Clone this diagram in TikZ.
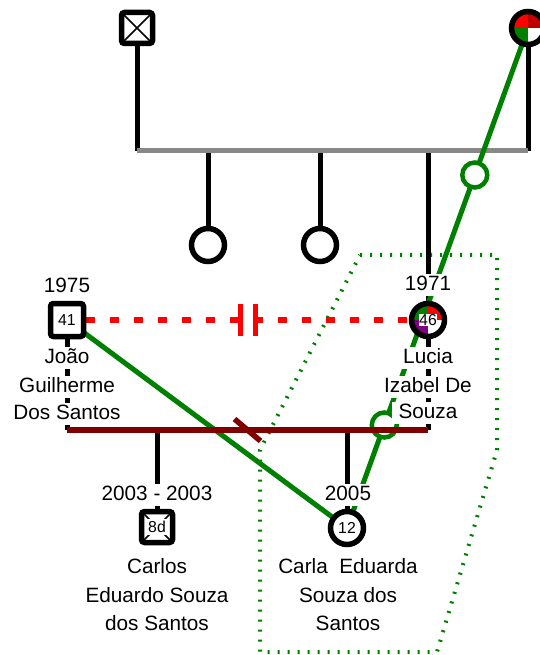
\documentclass[tikz,border=0pt]{standalone}
\usepackage{fontspec}
\setmainfont{Liberation Sans}
\usetikzlibrary{calc,backgrounds}
\definecolor{sibgray}{HTML}{888888}
\definecolor{bondgreen}{HTML}{008000}
\definecolor{coupred}{HTML}{800000}
\definecolor{sepred}{HTML}{FF0000}
\definecolor{qred}{HTML}{FF0000}
\definecolor{qdark}{HTML}{C00000}
\definecolor{qpurple}{HTML}{800080}
\newcommand{\lblsize}{\fontsize{11.8}{15.9}\selectfont}
\newcommand{\agesize}{\fontsize{9}{10}\selectfont}
\tikzset{
  male/.style={rectangle, draw=black, fill=white, line width=1.1mm, minimum size=6.2mm, inner sep=0pt, rounded corners=0.6mm, font=\agesize},
  female/.style={circle, draw=black, fill=white, line width=1.1mm, minimum size=6.6mm, inner sep=0pt, font=\agesize},
  xmark/.style={path picture={
      \draw[line width=0.3mm] (path picture bounding box.north west) -- (path picture bounding box.south east)
                              (path picture bounding box.north east) -- (path picture bounding box.south west);}},
  quads/.style n args={4}{path picture={
      \fill[#1] (path picture bounding box.center) rectangle (path picture bounding box.north west);
      \fill[#2] (path picture bounding box.center) rectangle (path picture bounding box.north east);
      \fill[#3] (path picture bounding box.center) rectangle (path picture bounding box.south west);
      \fill[#4] (path picture bounding box.center) rectangle (path picture bounding box.south east);}},
  agebox/.style={fill=white, inner sep=1.2pt, font=\agesize},
  stem/.style={draw=black, line width=1mm},
  sibline/.style={draw=sibgray, line width=1mm},
  coupline/.style={draw=coupred, line width=1.1mm},
  sepline/.style={draw=sepred, line width=1.1mm, dash pattern=on 1.8mm off 3mm},
  sepbar/.style={draw=sepred, line width=1mm},
  bond/.style={draw=bondgreen, line width=1mm},
  bondring/.style={circle, draw=bondgreen, fill=white, line width=0.9mm, minimum size=5mm, inner sep=0pt},
  famarea/.style={draw=bondgreen, line width=0.8mm, dash pattern=on 0.4mm off 1.6mm},
  lab/.style={fill=white, inner xsep=2pt, inner ysep=0.5pt, text height=8.6pt, text depth=2.4pt, font=\lblsize},
}

\begin{document}
\begin{tikzpicture}[x=0.2mm, y=-0.2mm]
  \useasboundingbox (0,0) rectangle (539,655);

  % people
  \node[male,xmark] (gf) at (137,28) {};
  \node[female,quads={qred}{qdark}{bondgreen}{white}] (gm) at (528,28) {};
  \node[female] (sib1) at (208,245) {};
  \node[female] (sib2) at (320,245) {};
  \node[male,minimum size=6.6mm] (joao) at (67,320) {41};
  \node[female,quads={bondgreen}{qred}{qpurple}{white}] (lucia) at (428,320) {};
  \node[agebox,inner sep=0.2pt] (luciaage) at (lucia) {46};
  \node[male,xmark] (carlos) at (157,527) {};
  \node[agebox,inner sep=1.5pt] (carlosage) at (carlos) {8d};
  \node[female] (carla) at (347,528) {12};

  \coordinate (sibL) at (137,151);
  \coordinate (sibR) at (528,151);
  \coordinate (cpL) at (67,430);
  \coordinate (cpR) at (428,430);
  \coordinate (sepM) at ($(joao.east)!0.5!(lucia.west)$);
  \coordinate (cpM) at ($(cpL)!0.5!(cpR)$);

  \begin{scope}[on background layer]
    \fill[white] (0,0) rectangle (539,655);
    \draw[famarea] (360,255) -- (497,255) -- (497,450) -- (437,652) -- (260,652) -- (260,450) -- cycle;

    % parents and siblings
    \draw[stem] (gf.south) -- (sibL);
    \draw[stem] (gm.south) -- (sibR);
    \draw[stem] (sib1.north) -- (sib1 |- sibL);
    \draw[stem] (sib2.north) -- (sib2 |- sibL);
    \draw[stem] (lucia.north) -- (lucia |- sibL);
    \draw[sibline] (sibL) -- (sibR);

    % bonds
    \draw[bond] (gm.center) -- (carla.center);
    \draw[bond] (joao.center) -- (carla.center);
    \node[bondring] (ring1) at ($(gm.center)!0.294!(carla.center)$) {};
    \node[bondring] (ring2) at ($(gm.center)!0.794!(carla.center)$) {};

    % separated
    \draw[sepline] (joao.east) -- (lucia.west);
    \draw[sepbar] ($(sepM)+(-7.5,-16)$) -- ($(sepM)+(-7.5,16)$);
    \draw[sepbar] ($(sepM)+(7.5,-16)$) -- ($(sepM)+(7.5,16)$);

    % couple and children
    \draw[stem] (joao.south) -- (cpL);
    \draw[stem] (lucia.south) -- (cpR);
    \draw[stem] (carlos.north) -- (carlos |- cpL);
    \draw[stem] (carla.north) -- (carla |- cpL);
    \draw[coupline] (cpL) -- (cpR);
    \draw[coupline] ($(cpM)+(-13,-11)$) -- ($(cpM)+(13,11)$);
  \end{scope}

  % labels
  \node[lab] (jyear) at (67,287) {1975};
  \node[lab] (jl1) at (67,358) {João};
  \node[lab] (jl2) at (67,387) {Guilherme};
  \node[lab] (jl3) at (67,414) {Dos Santos};
  \node[lab] (lyear) at (428,285) {1971};
  \node[lab] (ll1) at (428,358) {Lucia};
  \node[lab] (ll2) at (428,387) {Izabel De};
  \node[lab,inner xsep=4pt] (ll3) at (428,413) {Souza};
  \node[lab] (cyear) at (157,495) {2003 - 2003};
  \node[lab] (cl1) at (157,568) {Carlos};
  \node[lab] (cl2) at (157,597) {Eduardo Souza};
  \node[lab] (cl3) at (157,625) {dos Santos};
  \node[lab] (kyear) at (348,495) {2005};
  \node[lab] (kl1) at (348,568) {Carla~~Eduarda};
  \node[lab] (kl2) at (348,597) {Souza dos};
  \node[lab] (kl3) at (348,625) {Santos};
\end{tikzpicture}
\end{document}
